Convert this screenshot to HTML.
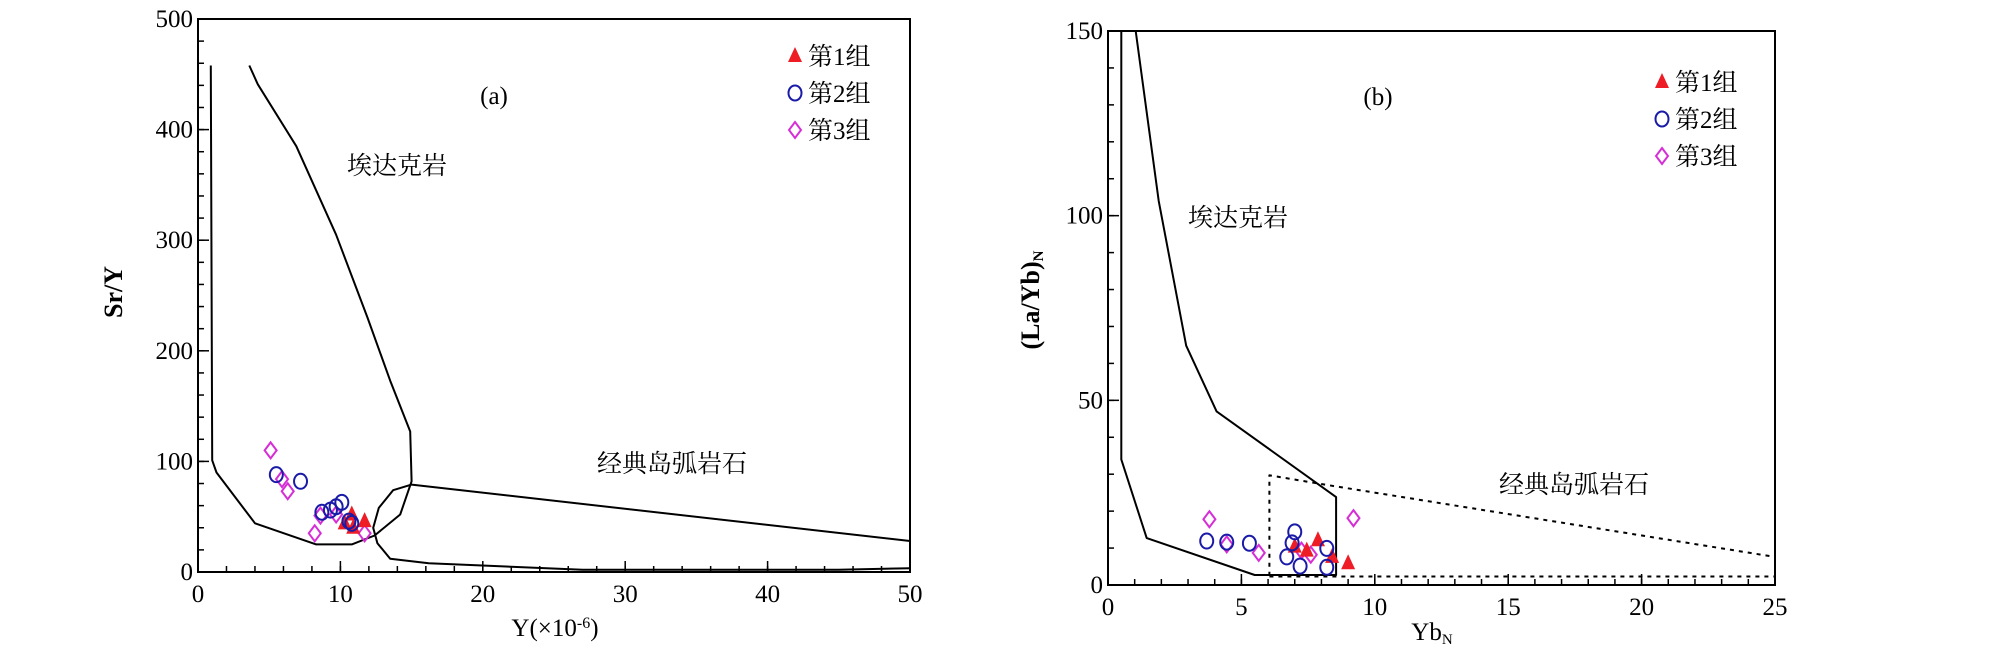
<!DOCTYPE html>
<html><head><meta charset="utf-8">
<style>
html,body{margin:0;padding:0;background:#fff;}
svg{display:block;}
text{font-family:"Liberation Serif","Noto Serif CJK SC","Noto Sans CJK SC",serif;fill:#000;}
</style></head>
<body>
<svg id="chart" width="2008" height="653" viewBox="0 0 2008 653" xmlns="http://www.w3.org/2000/svg">
<g id="pa"></g>
<g id="pb"></g>
</svg>
<script>
// Panel A data
const aXTicks=[0,10,20,30,40,50];
const aYTicks=[0,100,200,300,400,500];
const aAdakite=[[0.9,458],[1,101],[1.3,90],[4,44],[8.3,25],[10.8,25],[12.4,33],[14.2,52],[15,82],[14.9,127],[13.5,173],[11.9,230],[9.7,305],[6.9,385],[4.2,441],[3.6,458]];
const aArc=[[50,28],[15,79],[13.7,74],[12.7,58],[12.3,40],[12.6,26],[13.5,12],[16.2,8],[27,2],[45,2],[50,3.4]];
const aG1x=[10.3,10.8,10.9,11.7];
const aG1y=[44,52,40,46];
const aG2x=[5.5,7.2,8.7,9.3,9.7,10.1,10.6,10.8];
const aG2y=[88,82,54,56,59,63,46,44];
const aG3x=[5.1,5.9,6.3,8.2,8.6,9.7,11.7];
const aG3y=[110,84,73,35,51,52,35];
// Panel B data
const bXTicks=[0,5,10,15,20,25];
const bYTicks=[0,50,100,150];
const bAdakite=[[0.5,150],[0.5,34],[1.45,12.7],[5.5,2.7],[8.55,2.7],[8.55,23.8],[4.07,47],[2.93,64.8],[1.9,104],[1.04,150]];
const bArc=[[6.05,2.5],[6.05,29.7],[7.94,27.4],[25,7.6]];
const bArcBase=[[6.05,2.3],[25,2.3]];
const bG1x=[7.87,7.0,7.45,8.4,9.0];
const bG1y=[12.1,10.4,9.3,7.6,5.9];
const bG2x=[3.7,4.45,5.3,7.0,6.9,6.7,7.2,8.2,8.2];
const bG2y=[11.9,11.6,11.3,14.4,11.4,7.6,5.1,9.9,4.8];
const bG3x=[3.8,4.45,5.65,9.2,7.25,7.6];
const bG3y=[17.8,11,8.7,18.1,9.3,8.2];

const NS="http://www.w3.org/2000/svg";
function mk(parent,tag,attrs,txt){const e=document.createElementNS(NS,tag);for(const k in attrs)e.setAttribute(k,attrs[k]);if(txt!==undefined)e.textContent=txt;parent.appendChild(e);return e;}

function panel(g,cfg){
  const sx=v=>cfg.x0+(v-cfg.xmin)/(cfg.xmax-cfg.xmin)*(cfg.x1-cfg.x0);
  const sy=v=>cfg.y0-(v-cfg.ymin)/(cfg.ymax-cfg.ymin)*(cfg.y0-cfg.y1);
  const frame=mk(g,'rect',{x:cfg.x0,y:cfg.y1,width:cfg.x1-cfg.x0,height:cfg.y0-cfg.y1,fill:'none',stroke:'#000','stroke-width':2});
  
  
  for(let v=cfg.xmin;v<=cfg.xmax+1e-9;v+=cfg.xminor){
    const t=mk(g,'line',{x1:sx(v),x2:sx(v),y1:cfg.y0,y2:cfg.y0-6,stroke:'#000','stroke-width':1.5});
    
    
  }
  for(let v=cfg.ymin;v<=cfg.ymax+1e-9;v+=cfg.yminor){
    const t=mk(g,'line',{x1:cfg.x0,x2:cfg.x0+6,y1:sy(v),y2:sy(v),stroke:'#000','stroke-width':1.5});
    
    
  }
  cfg.xt.forEach(v=>{
    const t=mk(g,'line',{x1:sx(v),x2:sx(v),y1:cfg.y0,y2:cfg.y0-11,stroke:'#000','stroke-width':1.5});
    
    
    const l=mk(g,'text',{x:sx(v),y:cfg.y0+30,'text-anchor':'middle','font-size':25},String(v));
    
    
  });
  cfg.yt.forEach(v=>{
    const t=mk(g,'line',{x1:cfg.x0,x2:cfg.x0+11,y1:sy(v),y2:sy(v),stroke:'#000','stroke-width':1.5});
    
    
    const l=mk(g,'text',{x:cfg.x0-5,y:sy(v)+8,'text-anchor':'end','font-size':25},String(v));
    
    
  });
  const poly=(pts,dash,name,closed)=>{
    const d=pts.map((p,i)=>(i?'L':'M')+sx(p[0]).toFixed(1)+' '+sy(p[1]).toFixed(1)).join(' ')+(closed?' Z':'');
    const p=mk(g,'path',{d:d,fill:'none',stroke:'#000','stroke-width':2,'stroke-dasharray':dash||'none','stroke-linejoin':'round'});
    
    
  };
  cfg.curves.forEach(c=>poly(c.pts,c.dash,c.name,c.closed));
  cfg.g3x.forEach((x,i)=>{const cx=sx(x),cy=sy(cfg.g3y[i]);
    const m=mk(g,'path',{d:`M${cx} ${cy-8} L${cx+6} ${cy} L${cx} ${cy+8} L${cx-6} ${cy} Z`,fill:'none',stroke:'#d62ed6','stroke-width':2});
    
    });
  cfg.g1x.forEach((x,i)=>{const cx=sx(x),cy=sy(cfg.g1y[i]);
    const m=mk(g,'path',{d:`M${cx} ${cy-9} L${cx+7} ${cy+6} L${cx-7} ${cy+6} Z`,fill:'#ee1c25'});
    
    });
  cfg.g2x.forEach((x,i)=>{const cx=sx(x),cy=sy(cfg.g2y[i]);
    const m=mk(g,'ellipse',{cx:cx,cy:cy,rx:6.5,ry:7.5,fill:'none',stroke:'#1a1aa8','stroke-width':2});
    
    });
  const lg=mk(g,'g',{});
  
  
  const labels=['第1组','第2组','第3组'];
  labels.forEach((t,i)=>{const mx=cfg.legX,my=cfg.legY+i*37;
    let m;
    if(i===0) m=mk(lg,'path',{d:`M${mx} ${my-9} L${mx+7} ${my+6} L${mx-7} ${my+6} Z`,fill:'#ee1c25'});
    else if(i===1) m=mk(lg,'ellipse',{cx:mx,cy:my,rx:6.5,ry:7.5,fill:'none',stroke:'#1a1aa8','stroke-width':2});
    else m=mk(lg,'path',{d:`M${mx} ${my-8} L${mx+6} ${my} L${mx} ${my+8} L${mx-6} ${my} Z`,fill:'none',stroke:'#d62ed6','stroke-width':2});
    
    
    const tx=mk(lg,'text',{x:mx+13,y:my+9,'font-size':25},t);
    
    
  });
}

panel(document.getElementById('pa'),{x0:198,x1:910,y0:572,y1:19,xmin:0,xmax:50,ymin:0,ymax:500,xminor:2,yminor:20,xt:aXTicks,yt:aYTicks,
  curves:[{pts:aAdakite,name:'adakite-field',closed:false},{pts:aArc,name:'island-arc-field'}],
  g1x:aG1x,g1y:aG1y,g2x:aG2x,g2y:aG2y,g3x:aG3x,g3y:aG3y,legX:795,legY:56});
panel(document.getElementById('pb'),{x0:1108,x1:1775,y0:585,y1:31,xmin:0,xmax:25,ymin:0,ymax:150,xminor:1,yminor:10,xt:bXTicks,yt:bYTicks,
  curves:[{pts:bAdakite,name:'adakite-field'},{pts:bArc,dash:'4,5',name:'island-arc-field'},{pts:bArcBase,dash:'4,5',name:'island-arc-base'}],
  g1x:bG1x,g1y:bG1y,g2x:bG2x,g2y:bG2y,g3x:bG3x,g3y:bG3y,legX:1662,legY:82});
</script>
<script>
const svg=document.getElementById('chart');
function lab(x,y,t,name,size,extra){const e=document.createElementNS("http://www.w3.org/2000/svg",'text');e.setAttribute('x',x);e.setAttribute('y',y);e.setAttribute('font-size',size||25);e.setAttribute('text-anchor','middle');if(extra)for(const k in extra)e.setAttribute(k,extra[k]);e.textContent=t;svg.appendChild(e);return e;}
let e;
e=lab(494,104,'(a)');


e=lab(1378,105,'(b)');


e=lab(397,174,'埃达克岩');


e=lab(1238,226,'埃达克岩');


e=lab(672,472,'经典岛弧岩石');


e=lab(1574,493,'经典岛弧岩石');


e=lab(555,636,'Y(×10');


e.innerHTML='Y(×10<tspan baseline-shift="super" font-size="16">-6</tspan>)';
e=lab(1432,640,'Yb');


e.innerHTML='Yb<tspan font-size="15" dy="4">N</tspan>';
e=lab(0,0,'Sr/Y','',26,{transform:'translate(122,292) rotate(-90)','font-weight':'bold'});


e=lab(0,0,'(La/Yb)','',26,{transform:'translate(1039,300) rotate(-90)','font-weight':'bold'});


e.innerHTML='(La/Yb)<tspan font-size="15" dy="4">N</tspan>';
</script>
</body></html>
